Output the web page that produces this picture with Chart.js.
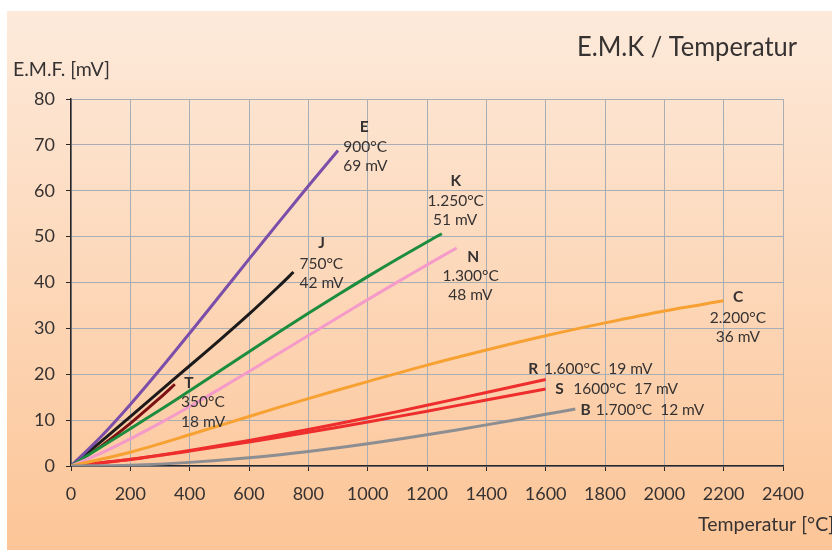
<!DOCTYPE html>
<html>
<head>
<meta charset="utf-8">
<script src="https://cdn.jsdelivr.net/npm/chart.js@4.4.1/dist/chart.umd.min.js"></script>
<style>
html,body{margin:0;padding:0;background:#fff;}
canvas{display:block;}
</style>
</head>
<body>
<canvas id="c" width="832" height="551"></canvas>
<script>
// ---- Data (temperature °C, EMF mV) ----
const tempE = [0,100,200,300,400,500,600,700,800,900];
const emfE  = [0,6.32,13.42,21.03,28.95,37.0,45.09,53.11,61.02,68.79];
const tempJ = [0,100,200,300,400,500,600,700,750];
const emfJ  = [0,5.27,10.78,16.33,21.85,27.39,33.10,39.13,42.28];
const tempT = [0,100,200,300,350];
const emfT  = [0,4.28,9.29,14.86,17.82];
const tempK = [0,100,200,300,400,500,600,700,800,900,1000,1100,1200,1250];
const emfK  = [0,4.10,8.14,12.21,16.40,20.64,24.90,29.13,33.28,37.33,41.28,45.12,48.84,50.64];
const tempN = [0,100,200,300,400,500,600,700,800,900,1000,1100,1200,1300];
const emfN  = [0,2.77,5.91,9.34,12.97,16.75,20.61,24.53,28.46,32.37,36.26,40.09,43.85,47.51];
const tempC = [0,200,400,600,800,1000,1200,1400,1600,1800,2000,2200];
const emfC  = [0,3.0,6.8,10.8,14.7,18.4,22.0,25.3,28.4,31.2,33.8,36.0];
const tempR = [0,200,400,600,800,1000,1200,1400,1600];
const emfR  = [0,1.47,3.41,5.58,7.95,10.51,13.23,16.04,18.84];
const tempS = [0,200,400,600,800,1000,1200,1400,1600];
const emfS  = [0,1.44,3.26,5.24,7.35,9.59,11.95,14.37,16.78];
const tempB = [0,200,400,600,800,1000,1200,1400,1600,1700];
const emfB  = [0,0.18,0.79,1.79,3.15,4.83,6.79,8.96,11.26,12.43];

const xTicks = [0,200,400,600,800,1000,1200,1400,1600,1800,2000,2200,2400];
const yTicks = [0,10,20,30,40,50,60,70,80];

const titleText = "E.M.K / Temperatur";
const yTitle = "E.M.F. [mV]";
const xTitle = "Temperatur [°C]";

// curve annotations (text anchored at data coordinates)
const labelTexts = [
  ["E", 988, 73.9, true, "center"], ["900°C", 918, 69.5, false, "left"], ["69 mV", 918, 65.4, false, "left"],
  ["J", 845, 48.6, true, "center"], ["750°C", 770, 44.1, false, "left"], ["42 mV", 770, 39.9, false, "left"],
  ["K", 1297, 62.1, true, "center"], ["1.250°C", 1297, 57.7, false, "center"], ["51 mV", 1295, 53.7, false, "center"],
  ["N", 1356, 45.6, true, "center"], ["1.300°C", 1347, 41.4, false, "center"], ["48 mV", 1346, 37.2, false, "center"],
  ["C", 2249, 36.8, true, "center"], ["2.200°C", 2248, 32.3, false, "center"], ["36 mV", 2248, 28.1, false, "center"],
  ["R", 1558, 21.2, true, "center"], ["1.600°C  19 mV", 1594, 21.2, false, "left"],
  ["S", 1647, 16.8, true, "center"], ["1600°C  17 mV", 1693, 16.8, false, "left"],
  ["B", 1735, 12.3, true, "center"], ["1.700°C  12 mV", 1769, 12.3, false, "left"],
  ["T", 397, 18.2, true, "center"], ["350°C", 371, 13.9, false, "left"], ["18 mV", 371, 9.7, false, "left"]
];

function pts(t, v){ return t.map((x,i)=>({x:x, y:v[i]})); }

const series = [
  {label:"B", t:tempB, v:emfB, color:"#8d8e92"},
  {label:"C", t:tempC, v:emfC, color:"#f7a133"},
  {label:"S", t:tempS, v:emfS, color:"#ee2d2d"},
  {label:"R", t:tempR, v:emfR, color:"#ee2d2d"},
  {label:"N", t:tempN, v:emfN, color:"#f49bc9"},
  {label:"K", t:tempK, v:emfK, color:"#1c8c3e"},
  {label:"E", t:tempE, v:emfE, color:"#7b4ea9"},
  {label:"J", t:tempJ, v:emfJ, color:"#1c1a1a"},
  {label:"T", t:tempT, v:emfT, color:"#7c1213"}
];

const FONT = "Lato, 'DejaVu Sans', sans-serif";
const TXT = "#363232";

const bgPlugin = {
  id: "bg",
  beforeDraw(chart){
    const ctx = chart.ctx;
    ctx.save();
    ctx.fillStyle = "#ffffff";
    ctx.fillRect(0,0,chart.width,chart.height);
    const g = ctx.createLinearGradient(0,11,0,550);
    g.addColorStop(0,"#fdeadb");
    g.addColorStop(1,"#fcc597");
    ctx.fillStyle = g;
    ctx.fillRect(7,11,chart.width-7,539);
    ctx.restore();
  }
};

const textPlugin = {
  id: "texts",
  afterDraw(chart){
    const ctx = chart.ctx;
    const xs = chart.scales.x, ys = chart.scales.y;
    ctx.save();
    ctx.fillStyle = TXT;
    ctx.textBaseline = "middle";
    labelTexts.forEach(([txt,x,y,bold,align])=>{
      ctx.font = (bold ? "bold 15.5px " : "15.5px ") + FONT;
      ctx.textAlign = align;
      ctx.fillText(txt, xs.getPixelForValue(x), ys.getPixelForValue(y));
    });
    // titles
    ctx.textAlign = "left";
    ctx.font = "27px " + FONT;
    ctx.fillText(titleText, 577, 47, 220);
    ctx.font = "19.5px " + FONT;
    ctx.fillText(yTitle, 13, 70);
    ctx.fillText(xTitle, 698, 525);
    ctx.restore();
  }
};

new Chart(document.getElementById("c"), {
  type: "line",
  data: {
    datasets: series.map(s=>({
      label: s.label,
      data: pts(s.t, s.v),
      borderColor: s.color,
      backgroundColor: s.color,
      borderWidth: 3,
      pointRadius: 0,
      tension: 0.3,
      fill: false,
      borderCapStyle: "butt"
    }))
  },
  options: {
    responsive: false,
    animation: false,
    devicePixelRatio: 1,
    layout: { padding: { left: 0, right: 49, top: 99, bottom: 0 } },
    plugins: { legend: {display:false}, tooltip: {enabled:false}, title: {display:false} },
    scales: {
      x: {
        type: "linear", min: 0, max: 2400,
        afterBuildTicks(scale){ scale.ticks = xTicks.map(v=>({value:v})); },
        afterFit(scale){ scale.height = 85; },
        grid: { color: "#a9adb4", lineWidth: 1, tickLength: 5, tickColor: "#2a2626", drawOnChartArea: true },
        border: { color: "#2a2626", width: 1.5 },
        ticks: { color: TXT, font: { family: FONT, size: 18 }, padding: 12, maxRotation: 0, autoSkip: false,
                 callback: v => String(v) }
      },
      y: {
        type: "linear", min: 0, max: 80,
        afterBuildTicks(scale){ scale.ticks = yTicks.map(v=>({value:v})); },
        afterFit(scale){ scale.width = 71; },
        grid: { color: "#a9adb4", lineWidth: 1, tickLength: 5, tickColor: "#2a2626" },
        border: { color: "#2a2626", width: 1.5 },
        ticks: { color: TXT, font: { family: FONT, size: 18 }, padding: 11, callback: v => String(v) }
      }
    }
  },
  plugins: [bgPlugin, textPlugin]
});
</script>
</body>
</html>
